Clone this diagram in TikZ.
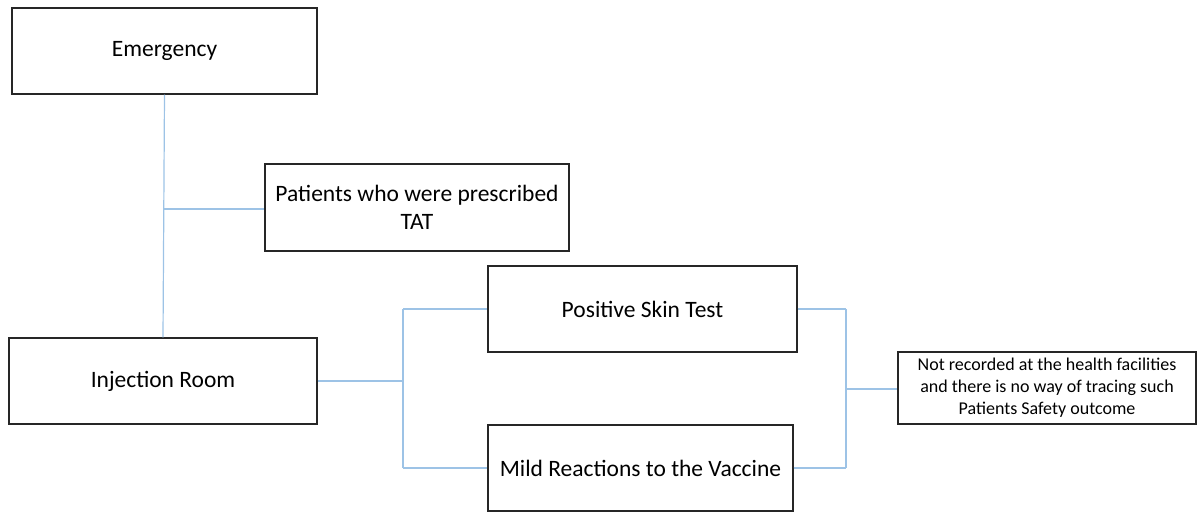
\documentclass[tikz,border=0pt]{standalone}
\usepackage{fontspec}
\setmainfont{Carlito}
\definecolor{conn}{HTML}{9DC3E6}
\definecolor{boxline}{HTML}{262626}
\begin{document}
\begin{tikzpicture}[x=1pt,y=-1pt,
  box/.style={draw=boxline,line width=1.1pt,fill=white,align=center,inner sep=0pt,font=\fontsize{23.5}{28}\selectfont},
  smallbox/.style={box,font=\fontsize{18}{22}\selectfont},
  conline/.style={draw=conn,line width=1.2pt}]
\useasboundingbox (0,0) rectangle (1197,512);
% boxes: centre and size from pixel coords
\node[box,minimum width=305pt,minimum height=86pt] (em) at (164.5,51) {Emergency};
\node[box,minimum width=304pt,minimum height=87pt] (pat) at (417,207.5) {Patients who were prescribed\\TAT};
\node[box,minimum width=308pt,minimum height=86pt] (inj) at (163,381) {Injection Room};
\node[box,minimum width=309pt,minimum height=86pt] (pos) at (642.5,309) {Positive Skin Test};
\node[box,minimum width=305pt,minimum height=86pt] (mild) at (640.5,468) {Mild Reactions to the Vaccine};
\node[smallbox,minimum width=298pt,minimum height=72pt] (nr) at (1047,388) {Not recorded at the health facilities\\and there is no way of tracing such\\Patients Safety outcome};
% connectors
\coordinate (j1) at (164,209);
\coordinate (j2) at (403,381);
\coordinate (j3) at (846,389);
\draw[conline] (em.south) -- (inj.north);
\draw[conline] (j1) -- (pat.west |- j1);
\draw[conline] (inj.east) -- (j2);
\draw[conline] (j2 |- pos.west) -- (j2 |- mild.west);
\draw[conline] (j2 |- pos.west) -- (pos.west);
\draw[conline] (j2 |- mild.west) -- (mild.west);
\draw[conline] (pos.east) -- (j3 |- pos.east);
\draw[conline] (mild.east) -- (j3 |- mild.east);
\draw[conline] (j3 |- pos.east) -- (j3 |- mild.east);
\draw[conline] (j3) -- (nr.west |- j3);
\end{tikzpicture}
\end{document}
